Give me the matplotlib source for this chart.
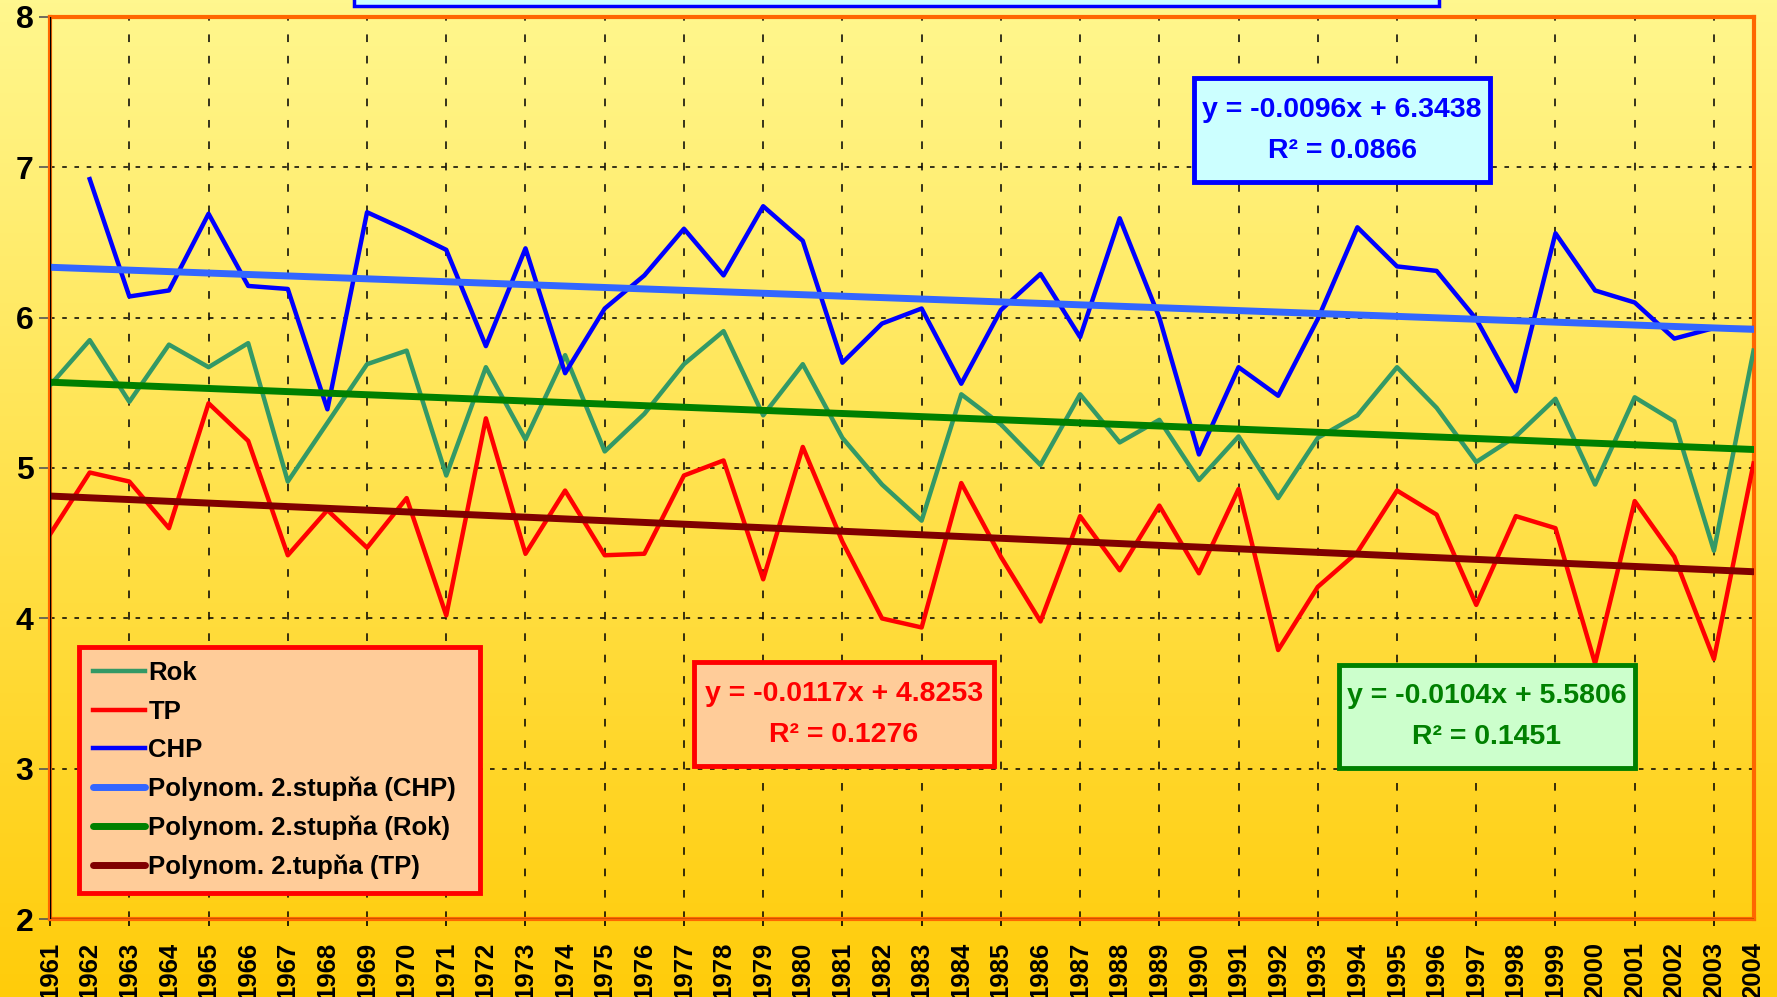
import numpy as np
import matplotlib
matplotlib.use("Agg")
import matplotlib.pyplot as plt
from matplotlib.patches import Rectangle
from matplotlib.ticker import FixedLocator

plt.rcParams['font.family'] = ['Liberation Sans', 'DejaVu Sans']
plt.rcParams['font.weight'] = 'bold'

years = list(range(1961, 2005))

rok = [5.55, 5.85, 5.44, 5.82, 5.67, 5.83, 4.91, 5.30, 5.69, 5.78,
       4.95, 5.67, 5.19, 5.75, 5.11, 5.36, 5.69, 5.91, 5.35, 5.69,
       5.20, 4.89, 4.65, 5.49, 5.29, 5.02, 5.49, 5.17, 5.32, 4.92,
       5.21, 4.80, 5.20, 5.35, 5.67, 5.40, 5.04, 5.21, 5.46, 4.89,
       5.47, 5.31, 4.45, 5.78]

tp = [4.56, 4.97, 4.91, 4.60, 5.43, 5.18, 4.42, 4.72, 4.47, 4.80,
      4.02, 5.33, 4.43, 4.85, 4.42, 4.43, 4.95, 5.05, 4.26, 5.14,
      4.51, 4.00, 3.94, 4.90, 4.41, 3.98, 4.68, 4.32, 4.75, 4.30,
      4.86, 3.79, 4.21, 4.44, 4.85, 4.69, 4.09, 4.68, 4.60, 3.70,
      4.78, 4.41, 3.73, 5.03]

# CHP has no value for 1961
chp = [np.nan, 6.92, 6.14, 6.18, 6.69, 6.21, 6.19, 5.39, 6.70, 6.58,
       6.45, 5.81, 6.46, 5.63, 6.06, 6.28, 6.59, 6.28, 6.74, 6.51,
       5.70, 5.96, 6.06, 5.56, 6.05, 6.29, 5.87, 6.66, 6.00, 5.09,
       5.67, 5.48, 5.99, 6.60, 6.34, 6.31, 5.99, 5.51, 6.56, 6.18,
       6.10, 5.86, 5.93, 5.93]

# trend equations as printed on the chart (x = 1..44)
trend_chp = (-0.0096, 6.3438, 0.0866)
trend_rok = (-0.0104, 5.5806, 0.1451)
trend_tp = (-0.0117, 4.8253, 0.1276)

fig = plt.figure(figsize=(17.77, 9.97), dpi=100)

# background gradient
bg = fig.add_axes([0, 0, 1, 1], zorder=-10)
grad = np.linspace(0, 1, 256).reshape(-1, 1)
top = np.array([255, 247, 142]) / 255
bot = np.array([255, 204, 10]) / 255
img = top[None, None, :] * (1 - grad[:, :, None]) + bot[None, None, :] * grad[:, :, None]
bg.imshow(img, aspect='auto', extent=[0, 1, 0, 1])
bg.axis('off')

# cut-off title box at the top
fig.patches.append(Rectangle((354 / 1777, 1 - 6 / 997), (1439 - 354) / 1777, 0.02,
                             transform=fig.transFigure, facecolor='#CCFFFF',
                             edgecolor='#0000FF', linewidth=2.5, zorder=5))

ax = fig.add_axes([0.0282, 0.0779, 0.9586, 0.9054])
ax.patch.set_alpha(0)

x = np.array(years)
idx = np.arange(1, len(years) + 1)

ax.plot(x, rok, color='#339966', lw=3.2, label='Rok', zorder=3)
ax.plot(x, tp, color='#FF0000', lw=3.2, label='TP', zorder=3)
ax.plot(x, chp, color='#0000FF', lw=3.2, label='CHP', zorder=3)
ax.plot(x, trend_chp[0] * idx + trend_chp[1], color='#3366FF', lw=5,
        solid_capstyle='round', label='Polynom. 2.stupňa (CHP)', zorder=4)
ax.plot(x, trend_rok[0] * idx + trend_rok[1], color='#008000', lw=5,
        solid_capstyle='round', label='Polynom. 2.stupňa (Rok)', zorder=4)
ax.plot(x, trend_tp[0] * idx + trend_tp[1], color='#800000', lw=5,
        solid_capstyle='round', label='Polynom. 2.tupňa (TP)', zorder=4)

ax.set_xlim(1961, 2004)
ax.set_ylim(2, 8)

ax.xaxis.remove_overlapping_locs = False
ax.xaxis.set_major_locator(FixedLocator(years))
ax.xaxis.set_minor_locator(FixedLocator(years[::2]))
ax.set_xticklabels([str(y) for y in years], rotation=90, fontsize=18.5, fontweight='bold')
ax.tick_params(axis='x', which='major', length=0, pad=16)
ax.tick_params(axis='x', which='minor', length=5, width=1.2, color='black')
ax.set_yticks(range(2, 9))
ax.set_yticklabels([str(v) for v in range(2, 9)], fontsize=23, fontweight='bold')
ax.tick_params(axis='y', length=8, width=1.2, color='#555555', pad=4)

ax.grid(True, axis='y', which='major', color='black', linestyle=(0, (3, 5)), lw=1.1)
ax.grid(True, axis='x', which='minor', color='black', linestyle=(0, (5, 9)), lw=1.1)
ax.set_axisbelow(True)

for s in ax.spines.values():
    s.set_color('#FF6600')
    s.set_linewidth(3)
ax.axvline(1961, color='black', lw=1, zorder=5)
ax.axhline(2, color='black', lw=1, zorder=5)

leg = ax.legend(loc='upper left', bbox_to_anchor=(0.0445, 0.1073, 0.2254, 0.2437),
                bbox_transform=fig.transFigure, mode='expand', frameon=True,
                fancybox=False, prop={'size': 18.5, 'weight': 'bold'},
                handlelength=2.0, handletextpad=0.15, labelspacing=0.56,
                borderaxespad=0, borderpad=0.55)
leg.get_frame().set_facecolor('#FFCC99')
leg.get_frame().set_edgecolor('#FF0000')
leg.get_frame().set_linewidth(3.5)
leg.get_frame().set_alpha(1)
leg.set_zorder(10)


def eq_box(cx, cy, w, h, trend, fc, ec, tc):
    x0 = cx - w / 2
    y0 = cy - h / 2
    fig.patches.append(Rectangle((x0 / 1777, 1 - (y0 + h) / 997), w / 1777, h / 997,
                                 transform=fig.transFigure, facecolor=fc,
                                 edgecolor=ec, linewidth=3.5, zorder=6))
    a, b, r2 = trend
    fig.text(cx / 1777, 1 - (cy - 20) / 997, f"y = {a:.4f}x + {b:.4f}",
             ha='center', va='center', color=tc, fontsize=20.5, fontweight='bold', zorder=7)
    fig.text(cx / 1777, 1 - (cy + 21) / 997, f"R² = {r2:.4f}",
             ha='center', va='center', color=tc, fontsize=20.5, fontweight='bold', zorder=7)


eq_box(1342, 130, 296, 104, trend_chp, '#CCFFFF', '#0000FF', '#0000FF')
eq_box(844, 714, 300, 104, trend_tp, '#FFCC99', '#FF0000', '#FF0000')
eq_box(1487, 716, 296, 103, trend_rok, '#CCFFCC', '#008000', '#008000')

fig.savefig('out.png', dpi=100)
